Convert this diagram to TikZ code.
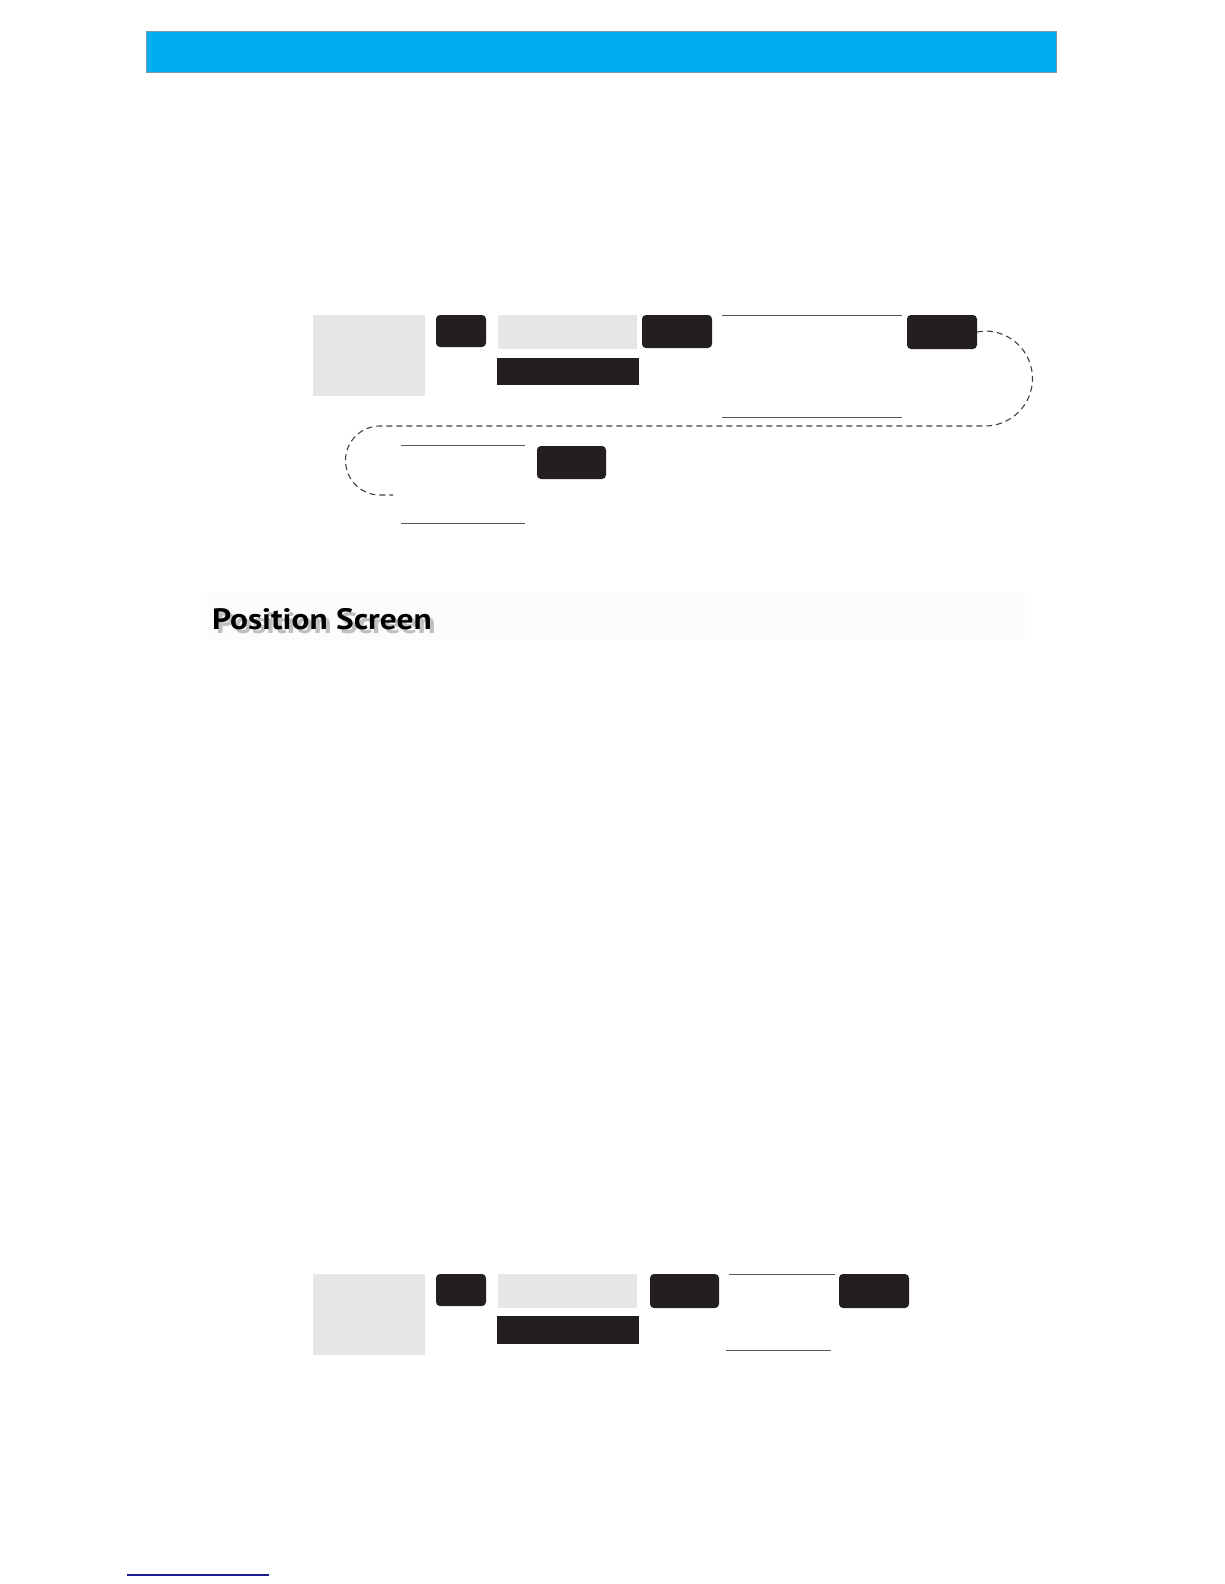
\documentclass[tikz,border=0pt]{standalone}
\usepackage{fontspec}
\newfontfamily\headfont{PT Sans}
\definecolor{keyblack}{HTML}{231F20}
\definecolor{panelgray}{HTML}{E6E6E6}
\definecolor{rulegray}{HTML}{555555}
\definecolor{barblue}{HTML}{00AEEF}
\definecolor{barframe}{HTML}{7A98A8}
\definecolor{linknavy}{HTML}{1B1B8A}
\tikzset{
  keybox/.style={fill=keyblack, rounded corners=4pt, inner sep=0pt, outer sep=0pt, anchor=north west},
  panel/.style={fill=panelgray, inner sep=0pt, outer sep=0pt, anchor=north west},
  softkey/.style={fill=keyblack, inner sep=0pt, outer sep=0pt, anchor=north west},
  rule/.style={draw=rulegray, line width=1pt},
  retpath/.style={draw=black!75, line width=1.1pt, dash pattern=on 6pt off 4pt},
  headtext/.style={anchor=base west, inner sep=0pt, font=\headfont\bfseries\fontsize{29.5}{31}\selectfont}
}
\begin{document}
\begin{tikzpicture}[x=1pt, y=-1pt]
    \useasboundingbox (0,0) rectangle (1224,1584);
    % title bar
    \node[fill=barblue, draw=barframe, line width=0.8pt, anchor=north west, inner sep=0pt,
          minimum width=910pt, minimum height=41pt] (bar) at (146,31) {};
    % first key sequence
    \node[panel, minimum width=112pt, minimum height=81pt] (pa) at (313,315) {};
    \node[keybox, minimum width=50pt, minimum height=32pt] (ka) at (436,315) {};
    \node[panel, minimum width=139pt, minimum height=34pt] (pb) at (498,315) {};
    \node[softkey, minimum width=142pt, minimum height=27pt] (sa) at (497,358) {};
    \node[keybox, minimum width=70pt, minimum height=33pt] (kb) at (642,315) {};
    \coordinate (ra1) at (722,315);
    \coordinate (ra2) at (902,315);
    \coordinate (rb1) at (722,417);
    \coordinate (rb2) at (902,417);
    \draw[rule] (ra1) -- (ra2);
    \draw[rule] (rb1) -- (rb2);
    \node[keybox, minimum width=70pt, minimum height=34pt] (kc) at (907,315) {};
    \coordinate (rc1) at (401,445);
    \coordinate (rc2) at (525,445);
    \coordinate (rd1) at (401,523);
    \coordinate (rd2) at (525,523);
    \draw[rule] (rc1) -- (rc2);
    \draw[rule] (rd1) -- (rd2);
    \node[keybox, minimum width=69pt, minimum height=33pt] (kd) at (537,446) {};
    % return path
    \coordinate (lp) at (393,495);
    \draw[retpath] (kc.east) -- (985,331) arc[start angle=90, end angle=-90, radius=47.5pt]
        -- (380,426) arc[start angle=90, end angle=270, radius=34.5pt] -- (lp);
    % heading
    \fill[black!1] (207,593) rectangle (1025,640);
    \node[headtext, text=black!40, opacity=0.6] (hs) at (216,633) {\scalebox{1.13}[1]{Position Screen}};
    \node[headtext] (head) at (212,629) {\scalebox{1.13}[1]{Position Screen}};
    % second key sequence
    \node[panel, minimum width=112pt, minimum height=81pt] (pc) at (313,1274) {};
    \node[keybox, minimum width=50pt, minimum height=32pt] (ke) at (436,1274) {};
    \node[panel, minimum width=139pt, minimum height=34pt] (pd) at (498,1274) {};
    \node[softkey, minimum width=142pt, minimum height=28pt] (sb) at (497,1316) {};
    \node[keybox, minimum width=69pt, minimum height=34pt] (kf) at (650,1274) {};
    \coordinate (re1) at (729,1274);
    \coordinate (re2) at (835,1274);
    \coordinate (rf1) at (726,1350);
    \coordinate (rf2) at (831,1350);
    \draw[rule] (re1) -- (re2);
    \draw[rule] (rf1) -- (rf2);
    \node[keybox, minimum width=70pt, minimum height=34pt] (kg) at (839,1274) {};
    % link rule
    \coordinate (la) at (127,1575);
    \coordinate (lb) at (269,1575);
    \draw[draw=linknavy, line width=1.2pt] (la) -- (lb);
\end{tikzpicture}
\end{document}
